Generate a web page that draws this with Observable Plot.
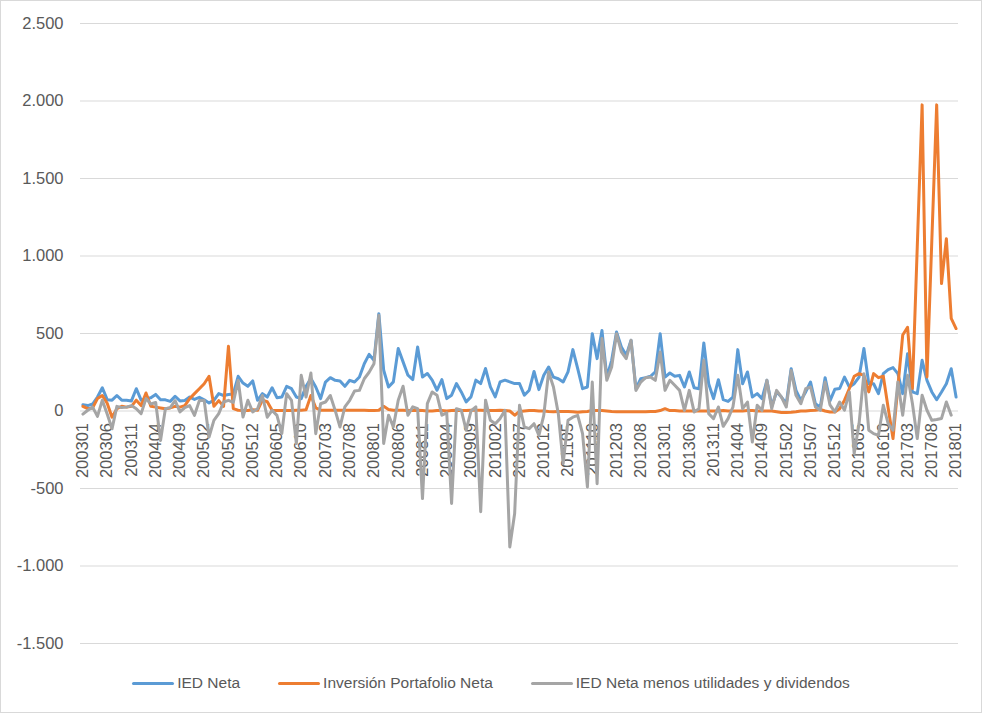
<!DOCTYPE html>
<html><head><meta charset="utf-8">
<script src="https://cdn.jsdelivr.net/npm/d3@7"></script>
<script src="https://cdn.jsdelivr.net/npm/@observablehq/plot@0.6"></script>
<style>
body{margin:0;background:#fff;}
#wrap{position:relative;width:982px;height:713px;box-sizing:border-box;border:1px solid #d9d9d9;overflow:hidden;font-family:"Liberation Sans",Arial,sans-serif;background:#fff;}
#chart svg{display:block}
#legend{position:absolute;left:0;top:669px;width:980px;height:26px;display:flex;justify-content:center;align-items:center;gap:38px;font-size:15.5px;color:#595959}
.item{display:flex;align-items:center;white-space:nowrap}
.sw{width:42px;height:3px;margin-right:3px;border-radius:1.5px}
</style></head><body>
<div id="wrap"><div id="chart"></div><div id="legend"></div></div>
<script>
// Categories: months 200301 .. 201801
const categories = [];
for (let y = 2003; y <= 2018; y++) for (let m = 1; m <= 12; m++) {
  const c = `${y}${String(m).padStart(2, "0")}`;
  if (+c <= 201801) categories.push(c);
}

const tickLabels = ["200301","200306","200311","200404","200409","200502","200507","200512","200605","200610",
  "200703","200708","200801","200806","200811","200904","200909","201002","201007","201012",
  "201105","201110","201203","201208","201301","201306","201311","201404","201409","201502",
  "201507","201512","201605","201610","201703","201708","201801"];

const yTicks = [-1500, -1000, -500, 0, 500, 1000, 1500, 2000, 2500];

const seriesNames = ["IED Neta", "Inversión Portafolio Neta", "IED Neta menos utilidades y dividendos"];
const seriesColors = ["#5B9BD5", "#ED7D31", "#A5A5A5"];

const iedNeta = [
  40, 35, 45, 90, 150, 73, 70, 100, 70, 70,
  65, 144, 70, 80, 85, 107, 72, 72, 62, 95,
  65, 68, 90, 75, 88, 72, 52, 68, 112, 100,
  107, 110, 224, 180, 159, 194, 69, 112, 90, 150,
  86, 90, 159, 144, 90, 80, 159, 209, 155, 80,
  187, 215, 198, 194, 159, 198, 187, 219, 305, 365,
  327, 628, 263, 155, 188, 403, 317, 231, 203, 413,
  220, 242, 199, 134, 203, 80, 102, 177, 123, 59,
  91, 199, 177, 274, 156, 91, 188, 199, 188, 177,
  177, 102, 134, 255, 138, 230, 284, 219, 208, 187,
  252, 396, 273, 144, 155, 499, 338, 520, 219, 327,
  510, 413, 359, 456, 144, 208, 215, 224, 252, 499,
  219, 245, 224, 230, 155, 252, 150, 144, 439, 176,
  80, 202, 73, 62, 90, 396, 176, 252, 90, 112,
  80, 198, 30, 123, 90, 47, 273, 133, 69, 123,
  187, 47, 25, 215, 65, 140, 145, 219, 155, 176,
  219, 403, 176, 176, 112, 241, 267, 280, 241, 112,
  370, 123, 112, 327, 198, 123, 73, 123, 176, 273, 90
];

const portafolioNeta = [
  30, 15, 20, 80, 100, 50, -40, 15, 30, 25,
  30, 70, 35, 116, 30, 25, 20, 15, 20, 30,
  25, 35, 80, 112, 144, 176, 224, 30, 67, 30,
  417, 15, 5, 3, 3, 8, 5, 70, 60, 5,
  3, 3, 3, 3, 5, 5, 8, 100, 20, 5,
  5, 5, 5, 5, 5, 5, 5, 5, 5, 3,
  3, 5, 30, 10, 5, 5, 5, 3, 3, 5,
  3, 0, 0, 3, 3, 0, 3, 5, 3, 3,
  5, 5, 5, 3, 3, 3, 5, 3, 0, -27,
  -3, 0, 3, 3, 0, 0, -3, -5, -3, -3,
  -3, -5, -8, -5, -3, 3, 3, 3, 0, -3,
  -5, -5, -5, -5, -5, -5, -5, -3, -3, 3,
  15, 3, 3, 0, 0, 0, 0, 0, 0, 0,
  0, 0, 3, 0, 0, 0, 0, 3, 3, 0,
  0, 0, 0, -5, -10, -10, -8, -5, 0, 0,
  3, 5, 10, 0, -6, -6, 15, 70, 145, 224,
  241, 230, 123, 241, 215, 224, 20, -178, 155, 490,
  540, 145, 1060, 1975, 220, 1100, 1975, 822, 1112, 597, 532
];

const iedMenosUtilidades = [
  -20, 5, 25, -35, 70, -20, -115, 30, 22, 25,
  35, 15, -17, 80, 45, 55, -190, 15, 22, 67,
  -6, 22, 35, -28, 67, 67, -168, -60, -17, 58,
  69, 55, 198, -39, 69, -6, 15, 100, -40, 4,
  -28, -146, 112, 69, -210, 230, 90, 245, -146, 47,
  58, 100, 4, -103, 26, 69, 129, 133, 208, 250,
  305, 617, -210, -27, -102, 70, 160, -27, 27, 15,
  -565, 48, 123, 102, -27, -12, -597, 15, 5, -124,
  0, 27, -650, 70, -60, -82, -49, 5, -877, -661,
  37, -103, -114, -82, -157, -28, 252, 155, -17, -340,
  -60, -40, -28, -146, -490, 187, -469, 467, 198, 284,
  499, 381, 338, 456, 133, 187, 215, 219, 198, 381,
  133, 198, 166, 133, 4, 133, -6, 15, 327, -17,
  -49, 26, -99, -49, 26, 230, 15, 58, -200, 37,
  4, 198, 15, 133, 90, 26, 262, 101, 47, 144,
  155, 26, 4, 187, 40, -6, 58, 5, 123, -275,
  -81, 241, -124, -146, -157, 37, -81, -124, 187, -27,
  230, 48, -178, 102, 5, -60, -55, -48, 58, -27, null
];

const seriesValues = [iedNeta, portafolioNeta, iedMenosUtilidades];

const rows = seriesValues.map((vals) => categories.map((month, i) => ({month, value: vals[i]})));

const loc = d3.formatLocale({decimal: ",", thousands: ".", grouping: [3], currency: ["", ""], minus: "-"});
const fmt = loc.format(",");

const chart = Plot.plot({
  width: 980,
  height: 660,
  marginTop: 22,
  marginBottom: 18,
  marginLeft: 79,
  marginRight: 23,
  style: {fontFamily: "'Liberation Sans', Arial, sans-serif", background: "#fff"},
  x: {type: "point", domain: categories, padding: 0.5, axis: null},
  y: {domain: [-1500, 2500], axis: null},
  marks: [
    Plot.gridY(yTicks, {stroke: "#d9d9d9", strokeOpacity: 1, strokeWidth: 1}),
    Plot.axisY(yTicks, {tickSize: 0, tickPadding: 17, tickFormat: fmt, fontSize: 16.5, color: "#595959", label: null}),
    Plot.text(tickLabels, {x: (d) => d, y: () => 0, rotate: -90, textAnchor: "end", dy: 12, fontSize: 16.5, fill: "#595959"}),
    ...rows.map((data, k) => Plot.lineY(data, {
      x: "month", y: "value", stroke: seriesColors[k], strokeWidth: 3,
      strokeLinejoin: "round", strokeLinecap: "round"
    }))
  ]
});
document.getElementById("chart").appendChild(chart);

const legend = document.getElementById("legend");
seriesNames.forEach((name, k) => {
  const item = document.createElement("div");
  item.className = "item";
  const sw = document.createElement("span");
  sw.className = "sw";
  sw.style.background = seriesColors[k];
  const tx = document.createElement("span");
  tx.textContent = name;
  item.appendChild(sw);
  item.appendChild(tx);
  legend.appendChild(item);
});
</script>
</body></html>
